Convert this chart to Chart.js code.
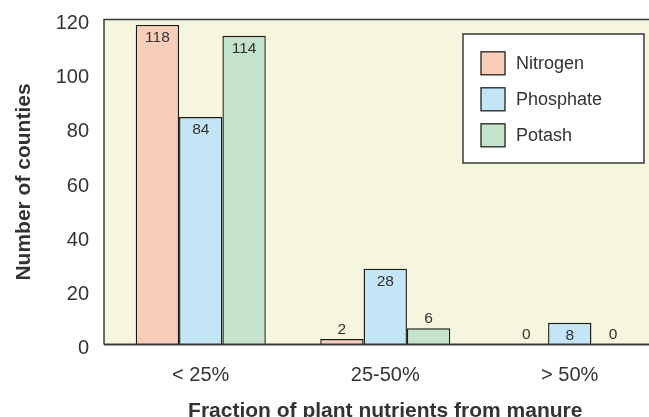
<!DOCTYPE html>
<html>
<head>
<meta charset="utf-8">
<script src="https://cdn.jsdelivr.net/npm/chart.js@4.4.0/dist/chart.umd.min.js"></script>
<style>
html, body { margin: 0; padding: 0; background: #fff; overflow: hidden; }
#wrap { width: 670px; height: 417px; }
</style>
</head>
<body>
<div id="wrap"><canvas id="manureChart"></canvas></div>
<script>
// Data
const categories = ['< 25%', '25-50%', '> 50%'];
const nitrogen = [118, 2, 0];
const phosphate = [84, 28, 8];
const potash = [114, 6, 0];
const yTicks = [0, 20, 40, 60, 80, 100, 120];

const seriesNames = ['Nitrogen', 'Phosphate', 'Potash'];
const seriesColors = ['#F8CDB9', '#C4E5F5', '#C5E3CB'];

const plotBg = '#F6F5DD';
const lineColor = '#3a3a3a';
const textColor = '#333333';
const frameInset = 4.5;   // plot frame starts a little left of the first category slot

Chart.defaults.font.family = '"Liberation Sans", Arial, sans-serif';
Chart.defaults.color = textColor;

// Plot background and frame lines
const plotFrame = {
    id: 'plotFrame',
    beforeDraw(chart) {
        const { ctx, chartArea: a } = chart;
        ctx.save();
        ctx.fillStyle = plotBg;
        ctx.fillRect(a.left - frameInset, a.top, a.right - a.left + frameInset, a.bottom - a.top);
        ctx.restore();
    },
    afterDatasetsDraw(chart) {
        const { ctx, chartArea: a } = chart;
        const x0 = a.left - frameInset;
        ctx.save();
        ctx.strokeStyle = lineColor;
        ctx.lineWidth = 1.5;
        ctx.beginPath();
        ctx.moveTo(a.right, a.top);
        ctx.lineTo(x0, a.top);
        ctx.lineTo(x0, a.bottom);
        ctx.stroke();
        ctx.lineWidth = 2;
        ctx.beginPath();
        ctx.moveTo(x0, a.bottom);
        ctx.lineTo(a.right, a.bottom);
        ctx.stroke();
        ctx.restore();
    }
};

// Value labels: inside the top of tall bars, above short ones
const barValues = {
    id: 'barValues',
    afterDatasetsDraw(chart) {
        const { ctx } = chart;
        ctx.save();
        ctx.font = '15.5px "Liberation Sans", Arial, sans-serif';
        ctx.fillStyle = textColor;
        ctx.textAlign = 'center';
        ctx.textBaseline = 'alphabetic';
        chart.data.datasets.forEach((ds, i) => {
            chart.getDatasetMeta(i).data.forEach((bar, j) => {
                const v = ds.data[j];
                const h = bar.base - bar.y;
                const y = h > 20 ? bar.y + 17 : bar.y - 5.5;
                ctx.fillText(String(v), bar.x, y);
            });
        });
        ctx.restore();
    }
};

// Boxed legend inside the plot, top right
const boxLegend = {
    id: 'boxLegend',
    afterDraw(chart) {
        const { ctx, chartArea: a } = chart;
        const w = 181, h = 129;
        const left = a.right - 18 - w;
        const top = a.top + 14.5;
        ctx.save();
        ctx.fillStyle = '#ffffff';
        ctx.fillRect(left, top, w, h);
        ctx.strokeStyle = lineColor;
        ctx.lineWidth = 1.5;
        ctx.strokeRect(left, top, w, h);
        ctx.font = '18px "Liberation Sans", Arial, sans-serif';
        ctx.textAlign = 'left';
        ctx.textBaseline = 'middle';
        chart.data.datasets.forEach((ds, i) => {
            const cy = top + 29.3 + i * 36;
            ctx.fillStyle = ds.backgroundColor;
            ctx.fillRect(left + 18, cy - 11.5, 24, 23);
            ctx.strokeStyle = '#222';
            ctx.lineWidth = 1.3;
            ctx.strokeRect(left + 18, cy - 11.5, 24, 23);
            ctx.fillStyle = textColor;
            ctx.fillText(ds.label, left + 53, cy + 1);
        });
        ctx.restore();
    }
};

const seriesData = [nitrogen, phosphate, potash];

const ctx = document.getElementById('manureChart').getContext('2d');
const manureChart = new Chart(ctx, {
    type: 'bar',
    data: {
        labels: categories,
        datasets: seriesNames.map((name, i) => ({
            label: name,
            data: seriesData[i],
            backgroundColor: seriesColors[i],
            borderColor: '#1a1a1a',
            borderWidth: 1.4,
            categoryPercentage: 0.7046,
            barPercentage: 1
        }))
    },
    options: {
        responsive: true,
        maintainAspectRatio: false,
        animation: false,
        layout: { padding: { top: 19.5, right: 8, left: 0, bottom: 0 } },
        plugins: {
            legend: { display: false },
            tooltip: { enabled: false }
        },
        scales: {
            x: {
                grid: { display: false, drawTicks: false },
                border: { display: false },
                ticks: {
                    font: { size: 20 },
                    color: textColor,
                    padding: 18.5,
                    maxRotation: 0
                },
                title: {
                    display: true,
                    text: 'Fraction of plant nutrients from manure',
                    font: { size: 21, weight: 'bold', lineHeight: 0.55 },
                    color: textColor,
                    padding: { top: 0, bottom: 0 }
                },
                afterFit(scale) {
                    scale.height = 72.5;
                    scale.paddingLeft = 0;
                    scale.paddingRight = 0;
                }
            },
            y: {
                min: 0,
                max: 120,
                grid: { display: false, drawTicks: false },
                border: { display: false },
                afterBuildTicks(scale) {
                    scale.ticks = yTicks.map(v => ({ value: v }));
                },
                ticks: {
                    font: { size: 20 },
                    color: textColor,
                    padding: 19.5,
                    labelOffset: 4
                },
                title: {
                    display: true,
                    text: 'Number of counties',
                    font: { size: 21, weight: 'bold', lineHeight: 1.2 },
                    color: textColor,
                    padding: { top: 12, bottom: 0 }
                },
                afterFit(scale) {
                    scale.width = 108.5;
                    scale.paddingTop = 0;
                    scale.paddingBottom = 0;
                }
            }
        }
    },
    plugins: [plotFrame, barValues, boxLegend]
});
</script>
</body>
</html>
